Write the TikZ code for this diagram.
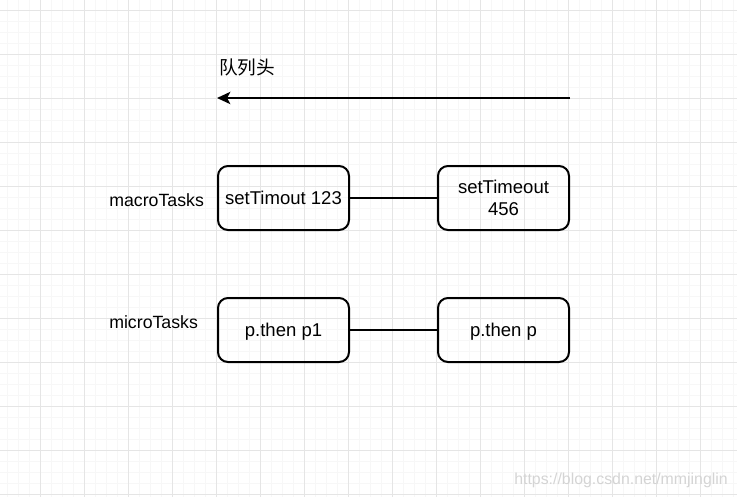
\documentclass[tikz,border=0pt]{standalone}
\usepackage{fontspec}
\setmainfont{Liberation Sans}
\newfontfamily\cjk{Noto Sans CJK SC}
\usetikzlibrary{arrows.meta}
\begin{document}
\begin{tikzpicture}[x=0.75pt,y=-0.75pt,node distance=165pt,
    task/.style={
      % The shape:
      rectangle,minimum width=98.25pt,minimum height=48pt,rounded corners=7.5pt,
      % The rest
      line width=1.5pt,draw=black,inner sep=0pt,text height=10pt,text depth=0pt,
      align=center,font=\fontsize{13.9}{16}\selectfont},
    queue/.style={anchor=west,inner sep=0pt,font=\fontsize{13.3}{15}\selectfont},
    minorgrid/.style={line width=0.75pt,draw=black!3},
    majorgrid/.style={line width=0.75pt,draw=black!10}]
    \useasboundingbox (0,0) rectangle (737,497);
    % grid
    \foreach \i in {0,...,66}
      \draw[minorgrid] ({7.3+11*\i},0) -- ({7.3+11*\i},497);
    \foreach \j in {0,...,45}
      \draw[minorgrid] (0,{-1+11*\j}) -- (737,{-1+11*\j});
    \foreach \i in {0,...,15}
      \draw[majorgrid] ({40.3+44*\i},0) -- ({40.3+44*\i},497);
    \foreach \j in {0,...,11}
      \draw[majorgrid] (0,{10+44*\j}) -- (737,{10+44*\j});
    % queue head
    \node (head) [anchor=west,inner sep=0pt,font=\cjk\fontsize{14}{16}\selectfont] at (219,67) {队列头};
    \coordinate (tail) at (570,98);
    \coordinate (tip) at (217,98);
    \draw[-{Stealth[length=10pt,width=9.2pt,inset=2.4pt]},line width=1.5pt] (tail) -- (tip);
    % tasks
    \node (macro) [queue] at (109,200) {macroTasks};
    \node (micro) [queue] at (109,322) {microTasks};
    \node (timer1) [task] at (283.5,198) {setTimout 123};
    \node (timer2) [task,text height={},text depth={},right of=timer1] {setTimeout\\456};
    \node (then1)  [task,node distance=99pt,below of=timer1] {p.then p1};
    \node (then2)  [task,right of=then1] {p.then p};
    \draw[line width=1.5pt] (timer1) -- (timer2);
    \draw[line width=1.5pt] (then1) -- (then2);
    % watermark
    \node (mark) [anchor=base east,inner sep=0pt,text=black!17,font=\fontsize{11.9}{14}\selectfont] at (728,484) {https://blog.csdn.net/mmjinglin};
\end{tikzpicture}
\end{document}
